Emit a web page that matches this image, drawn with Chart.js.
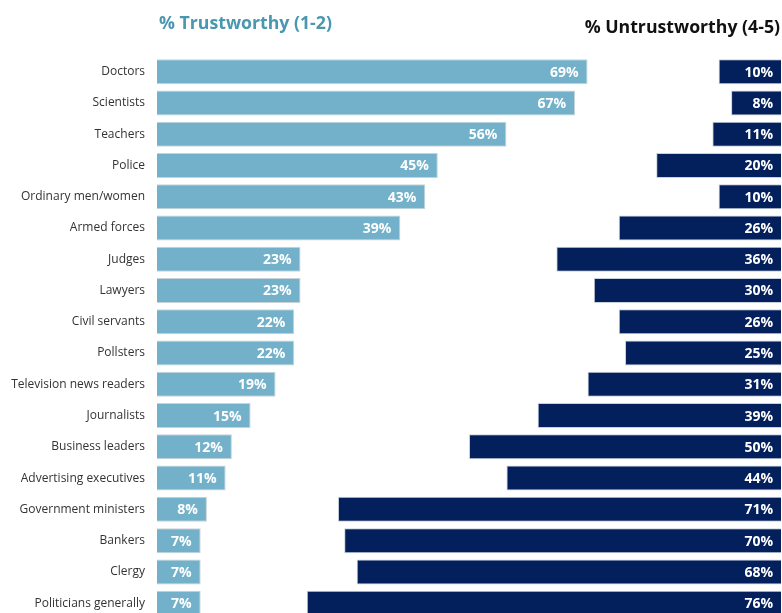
<!DOCTYPE html>
<html>
<head>
<meta charset="utf-8">
<script src="https://cdn.jsdelivr.net/npm/chart.js@4"></script>
<style>
    html, body { margin: 0; padding: 0; background: #fff; overflow: hidden; }
    #wrap { position: relative; width: 782px; height: 613px; overflow: hidden; }
    #chart { position: absolute; left: 0; top: 0; }
    .head { position: absolute; font-family: "Open Sans", sans-serif; font-weight: bold; font-size: 17.7px; white-space: nowrap; }
    #headLeft { left: 159px; top: 10px; color: #4a97b0; }
    #headRight { right: 2px; top: 14px; color: #111; }
</style>
</head>
<body>
<div id="wrap">
    <canvas id="chart" width="782" height="638"></canvas>
    <div class="head" id="headLeft">% Trustworthy (1-2)</div>
    <div class="head" id="headRight">% Untrustworthy (4-5)</div>
</div>
<script>
const professions = [
    'Doctors', 'Scientists', 'Teachers', 'Police', 'Ordinary men/women',
    'Armed forces', 'Judges', 'Lawyers', 'Civil servants', 'Pollsters',
    'Television news readers', 'Journalists', 'Business leaders',
    'Advertising executives', 'Government ministers', 'Bankers', 'Clergy',
    'Politicians generally'
];
const trustworthy = [69, 67, 56, 45, 43, 39, 23, 23, 22, 22, 19, 15, 12, 11, 8, 7, 7, 7];
const untrustworthy = [10, 8, 11, 20, 10, 26, 36, 30, 26, 25, 31, 39, 50, 44, 71, 70, 68, 76];

// white percentage labels inside the bar ends
const barLabels = {
    id: 'barLabels',
    afterDatasetsDraw(chart) {
        const ctx = chart.ctx;
        ctx.save();
        ctx.font = 'bold 14px "Open Sans", sans-serif';
        ctx.fillStyle = '#ffffff';
        ctx.textAlign = 'right';
        ctx.textBaseline = 'middle';
        chart.data.datasets.forEach((ds, i) => {
            chart.getDatasetMeta(i).data.forEach((bar, j) => {
                const x = i === 0 ? bar.x - 9 : bar.base - 8;
                ctx.fillText(ds.data[j] + '%', x, bar.y + 1);
            });
        });
        ctx.restore();
    }
};

const ctx = document.getElementById('chart').getContext('2d');
new Chart(ctx, {
    type: 'bar',
    data: {
        labels: professions,
        datasets: [{
            label: '% Trustworthy (1-2)',
            data: trustworthy,
            xAxisID: 'x',
            backgroundColor: '#72b1c9',
            borderColor: '#c8d3d8',
            borderWidth: 1,
            grouped: false,
            barPercentage: 0.8,
            categoryPercentage: 1
        }, {
            label: '% Untrustworthy (4-5)',
            data: untrustworthy,
            xAxisID: 'x2',
            backgroundColor: '#031f5c',
            borderColor: '#c8d0dc',
            borderWidth: 1,
            grouped: false,
            barPercentage: 0.8,
            categoryPercentage: 1
        }]
    },
    options: {
        indexAxis: 'y',
        responsive: false,
        animation: false,
        layout: { padding: { top: 56, bottom: 2, right: 1 } },
        plugins: {
            legend: { display: false },
            tooltip: { enabled: false }
        },
        scales: {
            x: { display: false, min: 0, max: 100 },
            x2: { display: false, min: 0, max: 100, reverse: true },
            y: {
                afterFit(scale) { scale.width = 157; },
                grid: { display: false, drawTicks: false },
                border: { display: false },
                ticks: {
                    padding: 12,
                    color: '#333',
                    font: { family: '"Open Sans", sans-serif', size: 12 }
                }
            }
        }
    },
    plugins: [barLabels]
});
</script>
</body>
</html>
